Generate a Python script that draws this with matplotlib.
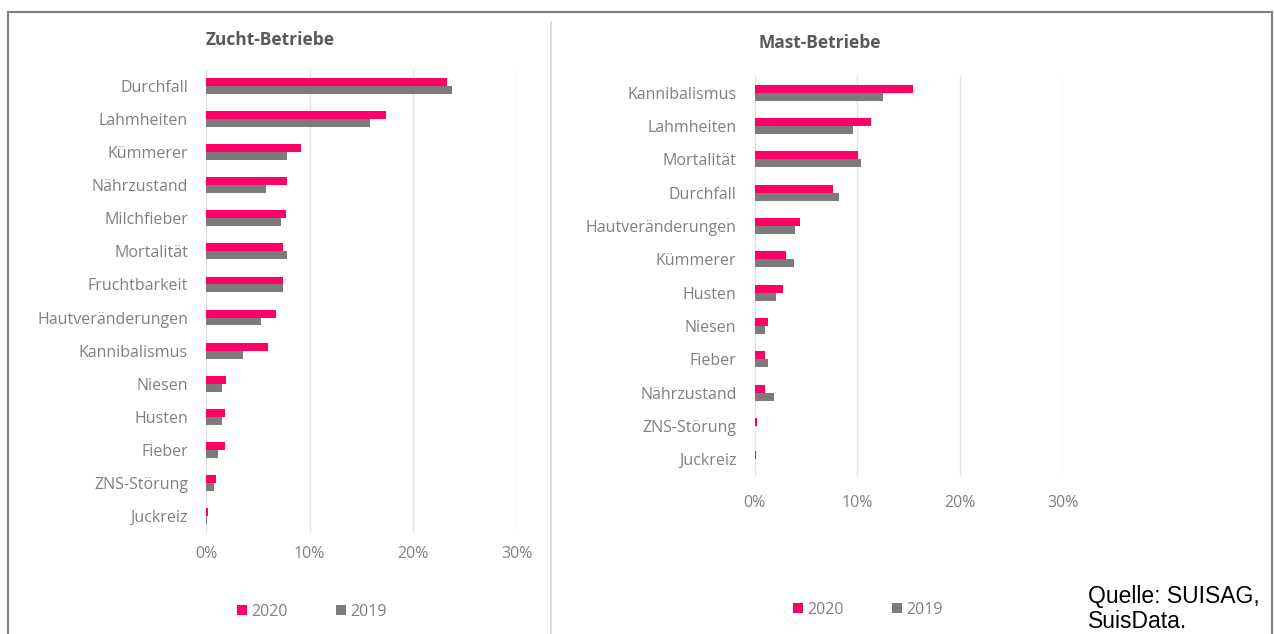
import numpy as np
import matplotlib
matplotlib.use("Agg")
import matplotlib.pyplot as plt
from matplotlib.lines import Line2D
from matplotlib.patches import Rectangle

W, H = 1274, 634

pink = "#FF0066"
grey = "#7B7B7B"
label_grey = "#808080"

# Zucht-Betriebe (Anteil Betriebe in %)
zucht_cats = ["Durchfall", "Lahmheiten", "Kümmerer", "Nährzustand", "Milchfieber",
              "Mortalität", "Fruchtbarkeit", "Hautveränderungen", "Kannibalismus",
              "Niesen", "Husten", "Fieber", "ZNS-Störung", "Juckreiz"]
zucht_2020 = [23.2, 17.4, 9.2, 7.8, 7.7, 7.4, 7.4, 6.8, 6.0, 1.9, 1.8, 1.8, 1.0, 0.2]
zucht_2019 = [23.7, 15.8, 7.8, 5.8, 7.2, 7.8, 7.4, 5.3, 3.6, 1.5, 1.5, 1.2, 0.8, 0.05]

# Mast-Betriebe
mast_cats = ["Kannibalismus", "Lahmheiten", "Mortalität", "Durchfall", "Hautveränderungen",
             "Kümmerer", "Husten", "Niesen", "Fieber", "Nährzustand", "ZNS-Störung", "Juckreiz"]
mast_2020 = [15.4, 11.3, 10.1, 7.6, 4.4, 3.1, 2.8, 1.3, 1.0, 1.0, 0.2, 0.1]
mast_2019 = [12.5, 9.6, 10.4, 8.2, 3.9, 3.8, 2.1, 1.0, 1.3, 1.9, 0.05, 0.0]

xticks = [0, 10, 20, 30]
xticklabels = ["0%", "10%", "20%", "30%"]
years = ["2020", "2019"]

plt.rcParams["font.family"] = ["Open Sans", "DejaVu Sans"]

fig = plt.figure(figsize=(W / 100, H / 100), dpi=100)


def px_axes(x0, y_top, x1, y_bot):
    return fig.add_axes([x0 / W, 1 - y_bot / H, (x1 - x0) / W, (y_bot - y_top) / H])


def draw_panel(ax, cats, v2020, v2019, title, title_xy, legend_xy, pad):
    y = np.arange(len(cats))
    h = 0.24
    b1 = ax.barh(y - h / 2, v2020, height=h, color=pink, zorder=3)
    b2 = ax.barh(y + h / 2, v2019, height=h, color=grey, zorder=3)
    ax.set_ylim(len(cats) - 0.5, -0.5)
    ax.set_xlim(0, 30)
    ax.set_yticks(y)
    ax.set_yticklabels(cats)
    ax.set_xticks(xticks)
    ax.set_xticklabels(xticklabels)
    ax.tick_params(axis="both", length=0, colors=label_grey, labelsize=11.5)
    ax.tick_params(axis="y", pad=13)
    ax.tick_params(axis="x", pad=pad)
    for s in ax.spines.values():
        s.set_visible(False)
    ax.grid(axis="x", color="#e3e3e3", lw=1, zorder=0)
    ax.set_axisbelow(True)
    fig.text(title_xy[0] / W, 1 - title_xy[1] / H, title, ha="center", va="center",
             fontsize=12.5, fontweight="bold", color="#595959")
    fig.legend([b1, b2], years, loc="center",
               bbox_to_anchor=(legend_xy[0] / W, 1 - legend_xy[1] / H),
               ncol=2, frameon=False, handlelength=0.6, handleheight=0.6,
               handletextpad=0.3, columnspacing=3.0, labelcolor=label_grey,
               prop={"size": 11.5})


ax1 = px_axes(206, 69.5, 517, 532.5)
draw_panel(ax1, zucht_cats, zucht_2020, zucht_2019, "Zucht-Betriebe",
           (270, 40), (312, 612), 10)

ax2 = px_axes(754.5, 76, 1063, 476)
draw_panel(ax2, mast_cats, mast_2020, mast_2019, "Mast-Betriebe",
           (820, 43), (868, 610), 14)

# outer frame and panel divider
fig.patches.append(Rectangle((8 / W, -0.05), (1272 - 8) / W, 1.05 - 12 / H,
                             transform=fig.transFigure, fill=False,
                             edgecolor="#808080", lw=1.6))
fig.add_artist(Line2D([551 / W, 551 / W], [0, 1 - 22 / H], transform=fig.transFigure,
                      color="#d6d6d6", lw=1.2))

fig.text(1088 / W, 1 - 585 / H, "Quelle: SUISAG,\nSuisData.", ha="left", va="top",
         fontsize=16.5, family="Liberation Sans", color="black", linespacing=1.12)

fig.savefig("out.png", dpi=100)
